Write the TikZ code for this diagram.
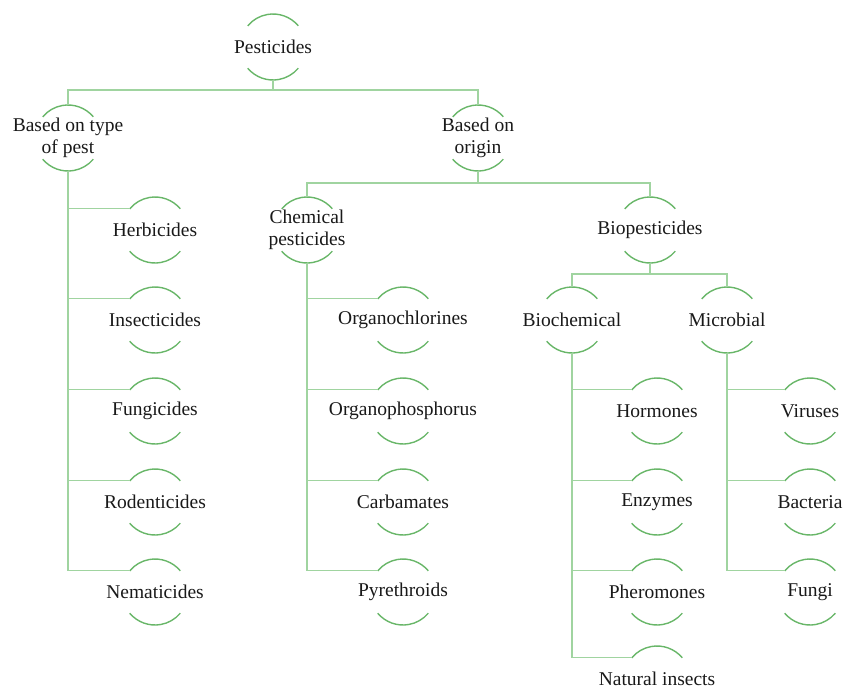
\documentclass[tikz,border=0pt]{standalone}
\usepackage{fontspec}
\setmainfont{Liberation Serif}
\usetikzlibrary{calc}
\definecolor{arcgreen}{RGB}{104,182,104}
\definecolor{linegreen}{RGB}{160,212,160}
\definecolor{txt}{RGB}{25,25,25}
\begin{document}
\begin{tikzpicture}[x=1pt,y=1pt,
  item/.style={inner sep=0pt,align=center,text=txt,font=\fontsize{19.5}{22}\selectfont},
  arcline/.style={draw=arcgreen,line width=1.4pt},
  conn/.style={draw=linegreen,line width=1.2pt}]
\useasboundingbox (0,0) rectangle (846,-691);
\clip (0,0) rectangle (846,-691);
% nodes
\node[item] (p)  at (273,-47)  {Pesticides};
\node[item] (bt) at (68,-138)  {Based on type\\of pest};
\node[item] (bo) at (478,-138) {Based on\\origin};
\node[item] (h)  at (155,-230) {Herbicides};
\node[item] (i)  at (155,-320) {Insecticides};
\node[item] (f)  at (155,-411) {Fungicides};
\node[item] (r)  at (155,-502) {Rodenticides};
\node[item] (n)  at (155,-592) {Nematicides};
\node[item] (cp) at (307,-230) {Chemical\\pesticides};
\node[item] (bp) at (650,-230) {Biopesticides};
\node[item] (oc) at (403,-320) {Organochlorines};
\node[item] (op) at (403,-411) {Organophosphorus};
\node[item] (ca) at (403,-502) {Carbamates};
\node[item] (py) at (403,-592) {Pyrethroids};
\node[item] (bc) at (572,-320) {Biochemical};
\node[item] (mb) at (727,-320) {Microbial};
\node[item] (ho) at (657,-411) {Hormones};
\node[item] (en) at (657,-502) {Enzymes};
\node[item] (ph) at (657,-592) {Pheromones};
\node[item] (ni) at (657,-679) {Natural insects};
\node[item] (vi) at (810,-411) {Viruses};
\node[item] (ba) at (810,-502) {Bacteria};
\node[item] (fu) at (810,-592) {Fungi};
% arcs and anchor coordinates
\foreach \m in {p,bt,bo,h,i,f,r,n,cp,bp,oc,op,ca,py,bc,mb,ho,en,ph,ni,vi,ba,fu}{
  \coordinate (\m-t) at ($(\m.center)+(0,33)$);
  \coordinate (\m-b) at ($(\m.center)+(0,-33)$);
  \coordinate (\m-l) at ($(\m.center)+(140:33)$);
  \draw[arcline] ($(\m.center)+(40:33)$) arc[start angle=40,end angle=140,radius=33];
  \draw[arcline] ($(\m.center)+(220:33)$) arc[start angle=220,end angle=320,radius=33];
}
% connectors
\draw[conn] (p-b) -- ++(0,-10) coordinate (j1);
\draw[conn] (bt-t) |- (j1) -| (bo-t);
\draw[conn] (bo-b) -- ++(0,-12) coordinate (j2);
\draw[conn] (cp-t) |- (j2) -| (bp-t);
\draw[conn] (bp-b) -- ++(0,-11) coordinate (j3);
\draw[conn] (bc-t) |- (j3) -| (mb-t);
\foreach \c in {h,i,f,r,n}{\draw[conn] (bt-b) |- (\c-l);}
\foreach \c in {oc,op,ca,py}{\draw[conn] (cp-b) |- (\c-l);}
\foreach \c in {ho,en,ph,ni}{\draw[conn] (bc-b) |- (\c-l);}
\foreach \c in {vi,ba,fu}{\draw[conn] (mb-b) |- (\c-l);}
\end{tikzpicture}
\end{document}
